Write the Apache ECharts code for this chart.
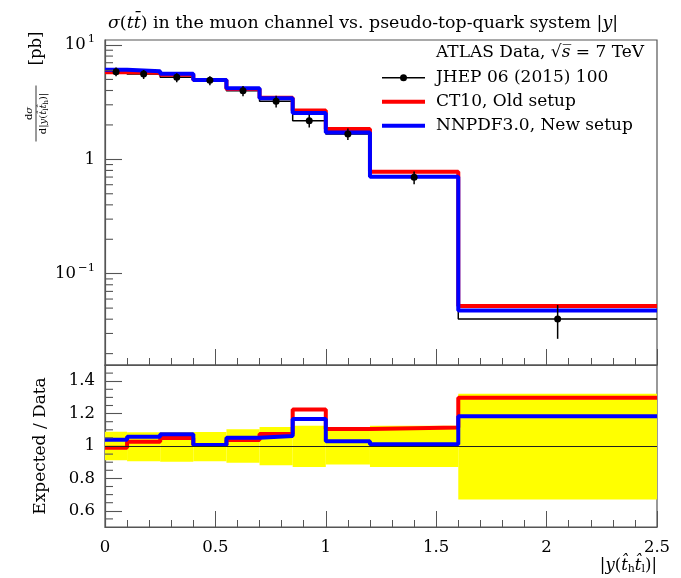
<!DOCTYPE html>
<html>
<head>
<meta charset="utf-8">
<script src="https://cdn.jsdelivr.net/npm/echarts@6/dist/echarts.min.js"></script>
<style>
  html, body { margin: 0; padding: 0; background: #fff; }
  #chart { width: 681px; height: 578px; }
</style>
</head>
<body>
<div id="chart"></div>
<script>
// Bin edges in |y(t_h t_l)|
const binEdges = [0, 0.1, 0.25, 0.4, 0.55, 0.7, 0.85, 1.0, 1.2, 1.6, 2.5];

// Measured differential cross-section dσ/d|y| [pb], muon channel
const dataXsec = [5.85, 5.57, 5.23, 4.91, 3.98, 3.22, 2.18, 1.67, 0.697, 0.0402];
// Relative total uncertainty of the measurement (upward / downward)
const dataErrUp = [0.088, 0.085, 0.085, 0.087, 0.103, 0.117, 0.125, 0.113, 0.125, 0.323];
const dataErrDn = [0.088, 0.094, 0.097, 0.094, 0.104, 0.119, 0.130, 0.114, 0.129, 0.330];

// Predictions [pb]
const ct10Xsec  = [5.79, 5.72, 5.49, 4.94, 4.13, 3.46, 2.67, 1.844, 0.777, 0.0522];
const nnpdfXsec = [6.08, 5.89, 5.61, 4.94, 4.18, 3.42, 2.544, 1.72, 0.705, 0.0476];

// Axis tick positions
const logMajorTicks = [0.1, 1, 10];
const logMinorTicks = [0.02, 0.03, 0.04, 0.05, 0.06, 0.07, 0.08, 0.09,
                       0.2, 0.3, 0.4, 0.5, 0.6, 0.7, 0.8, 0.9,
                       2, 3, 4, 5, 6, 7, 8, 9];
const ratioLabelTicks = [0.6, 0.8, 1, 1.2, 1.4];
const ratioMinorTicks = [0.55, 0.65, 0.7, 0.75, 0.85, 0.9, 0.95, 1.05, 1.1, 1.15,
                         1.25, 1.3, 1.35, 1.45];

const FONT = 'DejaVu Serif';
const FS = 16.5;
const LEG_FS = 17;
const AXIS_COLOR = '#555';

// Histogram as a step line: one point per lower edge, plus the last upper edge
function stepPoints(vals) {
  const pts = vals.map((v, i) => [binEdges[i], v]);
  pts.push([binEdges[vals.length], vals[vals.length - 1]]);
  return pts;
}
const binCentres = dataXsec.map((_, i) => (binEdges[i] + binEdges[i + 1]) / 2);
const dataPoints = dataXsec.map((v, i) => [binCentres[i], v, v * (1 - dataErrDn[i]), v * (1 + dataErrUp[i])]);
const bandRects = dataXsec.map((_, i) => [binEdges[i], binEdges[i + 1], 1 - dataErrDn[i], 1 + dataErrUp[i]]);
const ct10Ratio = ct10Xsec.map((v, i) => v / dataXsec[i]);
const nnpdfRatio = nnpdfXsec.map((v, i) => v / dataXsec[i]);

const chart = echarts.init(document.getElementById('chart'), null, { renderer: 'canvas' });

const xAxisCommon = {
  type: 'value', min: 0, max: 2.5, interval: 0.5,
  axisLine: { show: true, lineStyle: { color: AXIS_COLOR, width: 1.2 } },
  axisTick: { show: true, inside: true, length: 16, lineStyle: { color: AXIS_COLOR, width: 1 } },
  minorTick: { show: true, splitNumber: 5, length: 7, lineStyle: { color: AXIS_COLOR, width: 1 } },
  splitLine: { show: false }
};

// Short inward ticks on the left frame edge, placed through the y scale
function shortTickSeries(xAxisIndex, yAxisIndex, values) {
  return {
    type: 'custom', xAxisIndex, yAxisIndex, silent: true, clip: false, z: 6,
    data: values.map(v => [0, v]), encode: { x: 0, y: 1 },
    renderItem: (params, api) => {
      const p = api.coord([api.value(0), api.value(1)]);
      return { type: 'line', shape: { x1: p[0], y1: p[1], x2: p[0] + 8, y2: p[1] },
               style: { stroke: AXIS_COLOR, lineWidth: 1.1 } };
    }
  };
}

const option = {
  backgroundColor: '#fff',
  animation: false,
  title: {
    left: 103, top: 10,
    text: '{i|σ}({i|t}{i|t̄}) in the muon channel vs. pseudo-top-quark system |{i|y}|',
    textStyle: {
      fontFamily: FONT, fontSize: 17.4, fontWeight: 'normal', color: '#000',
      rich: { i: { fontFamily: FONT, fontSize: 17.4, fontStyle: 'italic', color: '#000' } }
    }
  },
  grid: [
    { left: 105, top: 40, width: 552, height: 325, show: true, borderColor: AXIS_COLOR, borderWidth: 1.2, backgroundColor: 'transparent' },
    { left: 105, top: 365, width: 552, height: 162, show: true, borderColor: AXIS_COLOR, borderWidth: 1.2, backgroundColor: 'transparent' }
  ],
  xAxis: [
    Object.assign({ gridIndex: 0, axisLabel: { show: false } }, xAxisCommon),
    Object.assign({
      gridIndex: 1,
      axisLabel: { show: true, margin: 12, fontFamily: FONT, fontSize: FS, color: '#000',
                   formatter: v => String(v) }
    }, xAxisCommon)
  ],
  yAxis: [
    {
      gridIndex: 0, type: 'log', logBase: 10, min: 0.0159, max: 11.06, position: 'left',
      axisLine: { show: true, lineStyle: { color: AXIS_COLOR, width: 1.2 } },
      axisTick: { show: true, inside: true, length: 17, customValues: logMajorTicks, lineStyle: { color: AXIS_COLOR, width: 1.1 } },
      splitLine: { show: false },
      axisLabel: {
        show: true, margin: 10, customValues: logMajorTicks,
        fontFamily: FONT, fontSize: FS, color: '#000',
        formatter: v => {
          const e = Math.round(Math.log10(v));
          if (e === 0) return '1';
          return '{b|10}{s|' + (e < 0 ? '−' : '') + Math.abs(e) + '}';
        },
        rich: {
          b: { fontFamily: FONT, fontSize: FS, color: '#000' },
          s: { fontFamily: FONT, fontSize: 11.5, color: '#000', padding: [0, 0, 12, 2] }
        }
      }
    },
    {
      gridIndex: 1, type: 'value', min: 0.5, max: 1.5, interval: 0.1, position: 'left',
      name: 'Expected / Data', nameLocation: 'middle', nameGap: 56, nameRotate: 90,
      nameTextStyle: { fontFamily: FONT, fontSize: 17, color: '#000' },
      axisLine: { show: true, lineStyle: { color: AXIS_COLOR, width: 1.2 } },
      axisTick: { show: true, inside: true, length: 17, customValues: ratioLabelTicks, lineStyle: { color: AXIS_COLOR, width: 1.1 } },
      axisLabel: { show: true, margin: 10, customValues: ratioLabelTicks, fontFamily: FONT, fontSize: FS, color: '#000',
                   formatter: v => String(Math.round(v * 10) / 10) },
      splitLine: { show: false }
    }
  ],
  series: [
    // --- upper panel ---
    {
      name: 'JHEP 06 (2015) 100 hist', type: 'line', xAxisIndex: 0, yAxisIndex: 0,
      step: 'end', data: stepPoints(dataXsec), symbol: 'none',
      lineStyle: { color: '#000', width: 1.5 }, z: 2, silent: true
    },
    {
      name: 'CT10, Old setup', type: 'line', xAxisIndex: 0, yAxisIndex: 0,
      step: 'end', data: stepPoints(ct10Xsec), symbol: 'none',
      lineStyle: { color: '#ff0000', width: 4 }, z: 3, silent: true
    },
    {
      name: 'NNPDF3.0, New setup', type: 'line', xAxisIndex: 0, yAxisIndex: 0,
      step: 'end', data: stepPoints(nnpdfXsec), symbol: 'none',
      lineStyle: { color: '#0000ff', width: 4 }, z: 4, silent: true
    },
    {
      name: 'JHEP 06 (2015) 100', type: 'custom', xAxisIndex: 0, yAxisIndex: 0,
      data: dataPoints, encode: { x: 0, y: [1, 2, 3] }, z: 5, clip: true, silent: true,
      renderItem: (params, api) => {
        const p = api.coord([api.value(0), api.value(1)]);
        const lo = api.coord([api.value(0), api.value(2)]);
        const hi = api.coord([api.value(0), api.value(3)]);
        return {
          type: 'group', children: [
            { type: 'line', shape: { x1: p[0], y1: lo[1], x2: p[0], y2: hi[1] }, style: { stroke: '#000', lineWidth: 1.5 } },
            { type: 'circle', shape: { cx: p[0], cy: p[1], r: 3.5 }, style: { fill: '#000' } }
          ]
        };
      }
    },
    shortTickSeries(0, 0, logMinorTicks),
    // --- ratio panel ---
    {
      name: 'data uncertainty', type: 'custom', xAxisIndex: 1, yAxisIndex: 1,
      data: bandRects, encode: { x: [0, 1], y: [2, 3] }, z: 1, clip: true, silent: true,
      renderItem: (params, api) => {
        const a = api.coord([api.value(0), api.value(3)]);
        const b = api.coord([api.value(1), api.value(2)]);
        return { type: 'rect', shape: { x: a[0], y: a[1], width: b[0] - a[0], height: b[1] - a[1] }, style: { fill: '#ffff00' } };
      },
      markLine: {
        silent: true, symbol: 'none', label: { show: false },
        lineStyle: { color: '#222', width: 1, type: 'solid' },
        data: [{ yAxis: 1 }]
      }
    },
    {
      name: 'CT10 ratio', type: 'line', xAxisIndex: 1, yAxisIndex: 1,
      step: 'end', data: stepPoints(ct10Ratio), symbol: 'none',
      lineStyle: { color: '#ff0000', width: 4 }, z: 3, silent: true
    },
    {
      name: 'NNPDF ratio', type: 'line', xAxisIndex: 1, yAxisIndex: 1,
      step: 'end', data: stepPoints(nnpdfRatio), symbol: 'none',
      lineStyle: { color: '#0000ff', width: 4 }, z: 4, silent: true
    },
    shortTickSeries(1, 1, ratioMinorTicks)
  ],
  graphic: [
    // Legend
    { type: 'text', x: 436, y: 52.7, style: {
        text: '{n|ATLAS Data, }{n|√}{i|s̅}{n| = 7 TeV}', verticalAlign: 'middle',
        rich: { n: { fontFamily: FONT, fontSize: LEG_FS, color: '#000' }, i: { fontFamily: FONT, fontSize: LEG_FS, fontStyle: 'italic', color: '#000' } }
    } },
    { type: 'line', shape: { x1: 382, y1: 77.7, x2: 425, y2: 77.7 }, style: { stroke: '#000', lineWidth: 1.5 } },
    { type: 'circle', shape: { cx: 403.5, cy: 77.7, r: 3.5 }, style: { fill: '#000' } },
    { type: 'text', x: 436, y: 77.7, style: { text: 'JHEP 06 (2015) 100', fontFamily: FONT, fontSize: LEG_FS, fill: '#000', verticalAlign: 'middle' } },
    { type: 'line', shape: { x1: 382, y1: 101.7, x2: 425, y2: 101.7 }, style: { stroke: '#ff0000', lineWidth: 4 } },
    { type: 'text', x: 436, y: 101.7, style: { text: 'CT10, Old setup', fontFamily: FONT, fontSize: LEG_FS, fill: '#000', verticalAlign: 'middle' } },
    { type: 'line', shape: { x1: 382, y1: 125.7, x2: 425, y2: 125.7 }, style: { stroke: '#0000ff', lineWidth: 4 } },
    { type: 'text', x: 436, y: 125.7, style: { text: 'NNPDF3.0, New setup', fontFamily: FONT, fontSize: LEG_FS, fill: '#000', verticalAlign: 'middle' } },
    // Upper y-axis title: dσ / d|y(t̂l t̂h)| [pb]
    {
      type: 'group', x: 36, y: 113.5, rotation: Math.PI / 2,
      children: [
        { type: 'text', x: 0, y: -1.5, style: {
            text: 'd{i|σ}', fontFamily: FONT, fontSize: 10, fill: '#000', align: 'center', verticalAlign: 'bottom',
            rich: { i: { fontFamily: FONT, fontSize: 10, fontStyle: 'italic' } } } },
        { type: 'line', shape: { x1: -28, y1: 0, x2: 28, y2: 0 }, style: { stroke: '#000', lineWidth: 0.8 } },
        { type: 'text', x: 0, y: 1.5, style: {
            text: 'd|{i|y}({i|t̂}{s|l}{i|t̂}{s|h})|', fontFamily: FONT, fontSize: 10, fill: '#000', align: 'center', verticalAlign: 'top',
            rich: { i: { fontFamily: FONT, fontSize: 10, fontStyle: 'italic' }, s: { fontFamily: FONT, fontSize: 7, padding: [5, 0, 0, 0] } } } },
        { type: 'text', x: 48, y: 0.5, style: { text: '[pb]', fontFamily: FONT, fontSize: FS, fill: '#000', align: 'left', verticalAlign: 'middle' } }
      ]
    },
    // x-axis title
    { type: 'text', right: 24, top: 557, style: {
        text: '|{i|y}({i|t̂}{s|h}{i|t̂}{s|l})|', fontFamily: FONT, fontSize: FS, fill: '#000',
        rich: { i: { fontFamily: FONT, fontSize: FS, fontStyle: 'italic' }, s: { fontFamily: FONT, fontSize: 11, padding: [8, 0, 0, 0] } }
    } }
  ]
};

chart.setOption(option);
</script>
</body>
</html>
